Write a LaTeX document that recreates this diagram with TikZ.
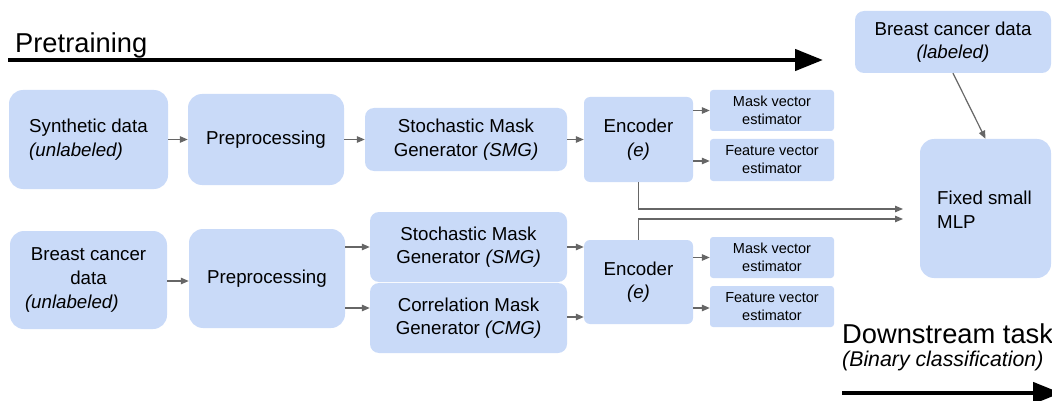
\documentclass[tikz,border=0pt]{standalone}
\usepackage{fontspec}
\setmainfont{Liberation Sans}
\usetikzlibrary{arrows.meta,calc}
\definecolor{boxblue}{HTML}{C9DAF8}
\definecolor{arrgray}{HTML}{666666}
\tikzset{
  box/.style={fill=boxblue,draw=none,inner sep=0pt,align=center,
    font=\fontsize{18.7}{23.5}\selectfont},
  bigbox/.style={box,rounded corners=14pt},
  midbox/.style={box,rounded corners=9pt},
  encbox/.style={box,rounded corners=6pt},
  estbox/.style={box,rounded corners=3pt,font=\fontsize{14.5}{18}\selectfont},
  conn/.style={draw=arrgray,line width=1.2pt,-{Triangle[length=8pt,width=6.5pt]}},
  phase/.style={draw=black,line width=4.5pt,-{Triangle[length=28pt,width=21pt]}},
  title/.style={anchor=base west,inner sep=0pt,font=\fontsize{27.3}{32}\selectfont},
}
\begin{document}
\begin{tikzpicture}[x=1pt,y=-1pt]
\useasboundingbox (0,0) rectangle (1052,401);

% phase labels and arrows
\node[title] (pre) at (15,53) {Pretraining};
\coordinate (pa) at (8,60);
\coordinate (pb) at (823,60);
\draw[phase] (pa) -- (pb);

\node[title] (down) at (842,343) {Downstream task};
\node[title,font=\fontsize{21.3}{25}\selectfont\itshape] (bin) at (842,366) {(Binary classification)};
\coordinate (da) at (842,393);
\coordinate (db) at (1061,393);
\draw[phase] (da) -- (db);

% top row
\node[bigbox,minimum width=159pt,minimum height=99pt,align=left] (syn) at (88.5,139.5)
  {Synthetic data\\\textit{(unlabeled)}};
\node[bigbox,minimum width=156pt,minimum height=91pt] (prep1) at (266,139.5) {Preprocessing};
\node[midbox,minimum width=202pt,minimum height=63pt] (smg1) at (466,139.5)
  {Stochastic Mask\\Generator \textit{(SMG)}};
\node[encbox,minimum width=109pt,minimum height=85pt] (enc1) at (638.5,139.5)
  {Encoder\\\textit{(e)}};
\node[estbox,minimum width=124pt,minimum height=41pt] (mest1) at (772,110.5)
  {Mask vector\\estimator};
\node[estbox,minimum width=124pt,minimum height=42pt] (fest1) at (772,160)
  {Feature vector\\estimator};

% bottom row
\node[bigbox,minimum width=157pt,minimum height=98pt,font=\fontsize{18.7}{24}\selectfont] (bc) at (88.5,280)
  {Breast cancer\\data\\\makebox[127pt][l]{\itshape (unlabeled)}};
\node[bigbox,minimum width=156pt,minimum height=99pt] (prep2) at (267,278.5) {Preprocessing};
\node[midbox,minimum width=197pt,minimum height=70pt] (smg2) at (468.5,247)
  {Stochastic Mask\\Generator \textit{(SMG)}};
\node[midbox,minimum width=197pt,minimum height=70pt] (cmg) at (468.5,318)
  {Correlation Mask\\Generator \textit{(CMG)}};
\node[encbox,minimum width=109pt,minimum height=84pt] (enc2) at (638.5,282)
  {Encoder\\\textit{(e)}};
\node[estbox,minimum width=124pt,minimum height=41pt] (mest2) at (772,257.5)
  {Mask vector\\estimator};
\node[estbox,minimum width=124pt,minimum height=41pt] (fest2) at (772,306.5)
  {Feature vector\\estimator};

% right side
\node[midbox,minimum width=196pt,minimum height=62pt] (bl) at (953,42)
  {Breast cancer data\\\textit{(labeled)}};
\node[bigbox,minimum width=131pt,minimum height=139pt] (mlp) at (985.5,208.5) {};
\node[anchor=base west,inner sep=0pt,align=left,font=\fontsize{18.7}{24}\selectfont] (mlpt) at (937,228)
  {Fixed small\\MLP};

% connectors top
\draw[conn] (syn.east) -- (prep1.west);
\draw[conn] (prep1.east) -- (smg1.west);
\draw[conn] (smg1.east) -- (enc1.west);
\draw[conn] (enc1.east |- mest1.west) -- (mest1.west);
\draw[conn] ([yshift=-1pt]enc1.east |- fest1.west) -- ([yshift=-1pt]fest1.west);

% connectors bottom
\draw[conn] ([yshift=-1pt]bc.east) -- ([yshift=-1pt]bc.east -| prep2.west);
\draw[conn] (prep2.east |- smg2.west) -- (smg2.west);
\draw[conn] ([yshift=10pt]prep2.east |- cmg.west) -- ([yshift=10pt]cmg.west);
\draw[conn] (smg2.east) -- (smg2.east -| enc2.west);
\draw[conn] ([yshift=1pt]cmg.east) -- ([yshift=1pt]cmg.east -| enc2.west);
\draw[conn] (enc2.east |- mest2.west) -- (mest2.west);
\draw[conn] ([yshift=-1.5pt]enc2.east |- fest2.west) -- ([yshift=-1.5pt]fest2.west);

% to MLP
\coordinate (m1) at (903,209);
\coordinate (m2) at (903,219);
\draw[conn] (enc1.south) |- (m1);
\draw[conn] (enc2.north) |- (m2);
\draw[conn] (bl.south) -- (mlp.north);
\end{tikzpicture}
\end{document}
